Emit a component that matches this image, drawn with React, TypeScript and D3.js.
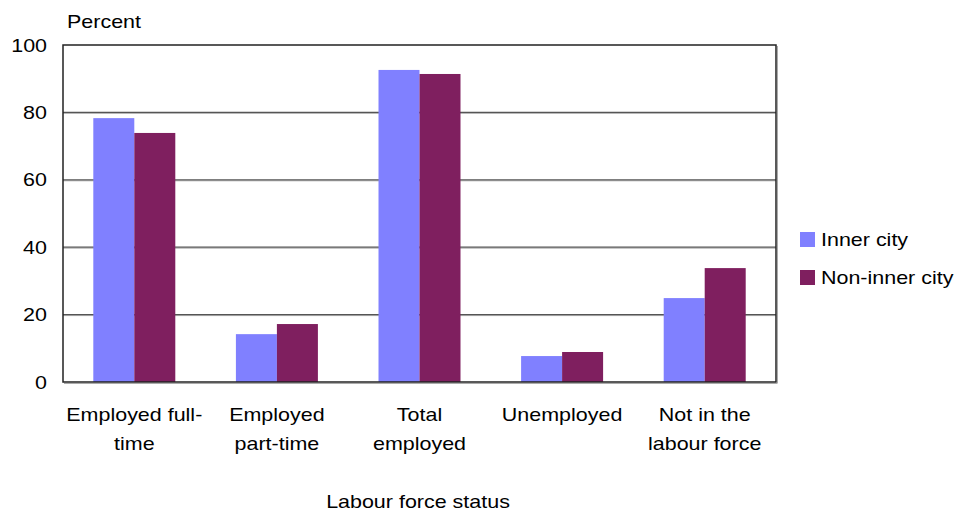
import React from "react";
import * as d3 from "d3";

const categories = [
  ["Employed full-", "time"],
  ["Employed", "part-time"],
  ["Total", "employed"],
  ["Unemployed"],
  ["Not in the", "labour force"],
];
const seriesNames = ["Inner city", "Non-inner city"];
const innerCity = [78.3, 14.2, 92.6, 7.7, 24.9];
const nonInnerCity = [73.9, 17.2, 91.4, 8.9, 33.8];
const yTicks = [0, 20, 40, 60, 80, 100];
const colors = ["#8080FF", "#7F1F5F"];

const W = 954;
const H = 513;
const plot = { left: 63, right: 776, top: 45, bottom: 382 };
const font = "Arial, 'Liberation Sans', sans-serif";
const SX = 1.13;

function T({ x, y, anchor = "start", children, dy }: { x: number; y: number; anchor?: string; children: any; dy?: string }) {
  return (
    <text
      transform={`translate(${x},${y}) scale(${SX},1)`}
      textAnchor={anchor as any}
      dy={dy}
      fontSize={19}
      fill="#000"
    >
      {children}
    </text>
  );
}

export default function App() {
  const x0 = d3
    .scaleBand<number>()
    .domain(categories.map((_, i) => i))
    .range([plot.left, plot.right])
    .paddingInner(0.425)
    .paddingOuter(0.2125);
  const x1 = d3.scaleBand<number>().domain([0, 1]).range([0, x0.bandwidth()]);
  const y = d3.scaleLinear().domain([0, 100]).range([plot.bottom, plot.top]);
  const series = [innerCity, nonInnerCity];

  return (
    <svg
      width={W}
      height={H}
      style={{ position: "absolute", left: 0, top: 0, background: "#fff" }}
      fontFamily={font}
    >
      {yTicks.map((t) => (
        <g key={t}>
          {t > 0 && t < 100 && (
            <>
              <line x1={plot.left} x2={plot.right} y1={y(t) + 1} y2={y(t) + 1} stroke="#b0b0b0" strokeWidth={1} />
              <line x1={plot.left} x2={plot.right} y1={y(t)} y2={y(t)} stroke="#555" strokeWidth={1.2} />
            </>
          )}
          <T x={47} y={y(t)} dy="0.35em" anchor="end">
            {t}
          </T>
        </g>
      ))}
      {series.map((vals, s) =>
        vals.map((v, i) => (
          <rect
            key={`${s}-${i}`}
            x={(x0(i) as number) + (x1(s) as number)}
            y={y(v)}
            width={x1.bandwidth()}
            height={y(0) - y(v)}
            fill={colors[s]}
          />
        ))
      )}
      <rect
        x={plot.left}
        y={plot.top}
        width={plot.right - plot.left}
        height={plot.bottom - plot.top}
        fill="none"
        stroke="#222"
        strokeWidth={1.5}
      />
      <line x1={plot.right + 1.5} x2={plot.right + 1.5} y1={plot.top + 1} y2={plot.bottom + 1} stroke="#aaa" />
      <line x1={plot.left + 1} x2={plot.right + 1.5} y1={plot.bottom + 1.5} y2={plot.bottom + 1.5} stroke="#aaa" />
      <T x={67} y={28}>Percent</T>
      {categories.map((lines, i) => {
        const cx = (x0(i) as number) + x0.bandwidth() / 2;
        return (
          <g key={i}>
            {lines.map((l, j) => (
              <T key={j} x={cx} y={421 + j * 29} anchor="middle">
                {l}
              </T>
            ))}
          </g>
        );
      })}
      <T x={418} y={508} anchor="middle">
        Labour force status
      </T>
      {seriesNames.map((name, s) => (
        <g key={name}>
          <rect x={800} y={232 + s * 38} width={15} height={15} fill={colors[s]} />
          <T x={821} y={246 + s * 38}>
            {name}
          </T>
        </g>
      ))}
    </svg>
  );
}
